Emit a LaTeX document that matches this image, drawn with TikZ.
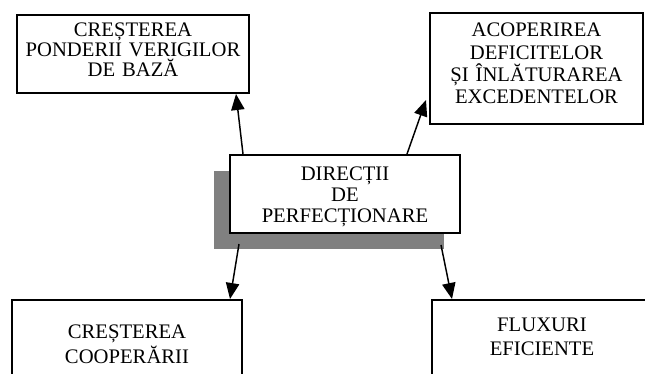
\documentclass[tikz,border=0pt]{standalone}
\usepackage{fontspec}
\setmainfont{Liberation Serif}
\usetikzlibrary{arrows.meta,calc,shadows}

\begin{document}
\begin{tikzpicture}[x=0.75pt,y=-0.75pt,
  box/.style={draw,line width=1.5pt,fill=white,anchor=north,align=center,
    inner sep=0pt,font=\fontsize{15.5pt}{#1}\selectfont},
  arr/.style={line width=1.1pt,-{Triangle[length=12pt,width=10pt]}}]
\useasboundingbox (0,0) rectangle (645,374);
\clip (0,0) rectangle (645,374);

% centre, with its grey shadow
\node[box=16.1pt,text width=172.5pt,text height=18.75pt,text depth=39.75pt,
  drop shadow={shadow xshift=-12pt,shadow yshift=-12pt,fill=black!50,opacity=1}]
  (dir) at (345,154) {DIRECȚII\\DE\\PERFECȚIONARE};

% the four directions
\node[box=15pt,text width=174pt,text height=16.5pt,text depth=42pt]
  (pond) at (133,14) {CREȘTEREA\\PONDERII VERIGILOR\\DE BAZĂ};
\node[box=16.7pt,text width=159.75pt,text height=18pt,text depth=65.25pt]
  (acop) at (536.5,12) {ACOPERIREA\\DEFICITELOR\\ȘI ÎNLĂTURAREA\\EXCEDENTELOR};
\node[box=18.75pt,text width=172.5pt,text height=28.5pt,text depth=50pt]
  (coop) at (127,299) {CREȘTEREA\\COOPERĂRII};
\node[box=18pt,text width=165pt,text height=23.25pt,text depth=55pt]
  (flux) at (542,299) {FLUXURI\\EFICIENTE};

\draw[arr] ($(dir.north west)+(14,0)$) -- ($(pond.south east)+(-14,0)$);
\draw[arr] ($(dir.north east)+(-54,0)$) -- ($(acop.south west)+(-3,-25)$);
\draw[arr] ($(dir.south west)+(10,10)$) -- ($(coop.north east)+(-13,0)$);
\draw[arr] ($(dir.south east)+(-20,11)$) -- ($(flux.north west)+(21,0)$);
\end{tikzpicture}
\end{document}
